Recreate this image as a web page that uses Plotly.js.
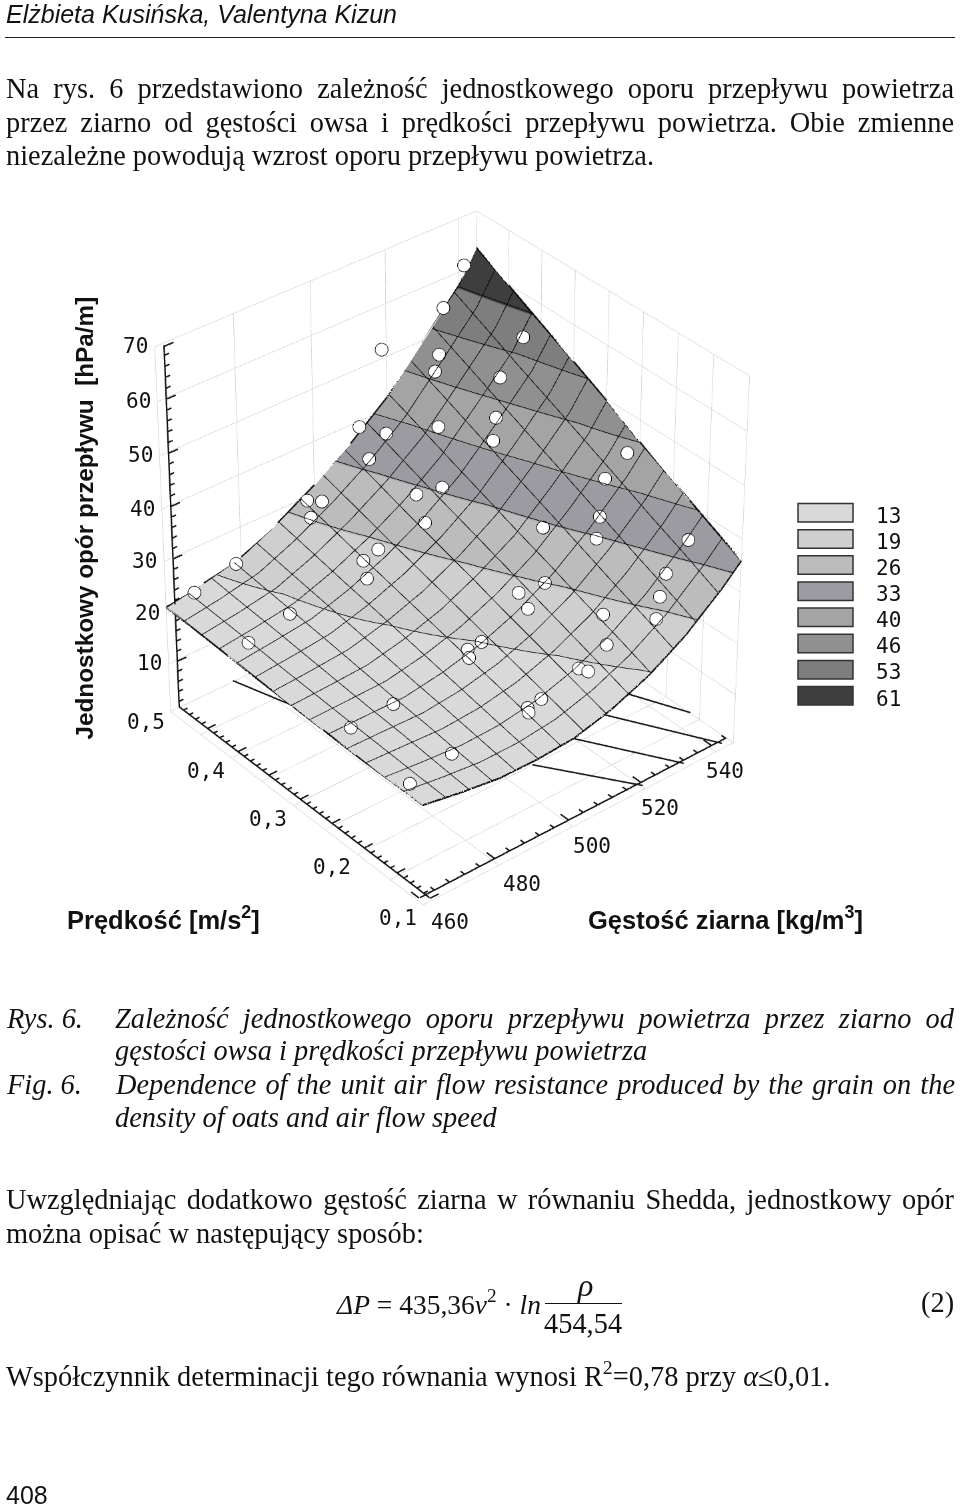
<!DOCTYPE html>
<html><head><meta charset="utf-8">
<script src="https://cdn.plot.ly/plotly-3.0.1.min.js"></script>
<style>html,body{margin:0;padding:0;background:#fff;overflow:hidden;width:960px;height:1504px}
#w{position:absolute;left:0;top:0;width:960px;height:1504px;overflow:hidden}
#g{position:absolute;left:0;width:960px}
</style></head><body><div id="w"><div id="g"></div></div>
<script>
const density=[460,470,480,490,500,510,520,530,540,545];
const speed=[0.1,0.15,0.2,0.25,0.3,0.35,0.4,0.45,0.5];
const resistance=[
[19.6,18.3,17.3,17.2,17.7,19.6,22.5,26.7,32.4,35.8],
[19.6,18.8,18.2,18.4,19.5,21.7,25.0,29.6,35.6,39.1],
[19.6,19.4,19.1,19.7,21.2,23.8,27.4,32.4,38.6,42.5],
[19.8,19.8,19.8,21.0,22.9,25.8,29.9,35.3,41.8,45.8],
[20.0,20.3,20.7,22.3,24.6,28.0,32.2,38.2,44.9,49.6],
[20.2,20.8,21.6,23.6,26.3,30.0,34.7,41.0,48.0,53.0],
[20.5,21.4,22.4,24.8,28.0,32.0,37.1,43.9,51.0,56.3],
[20.8,21.8,23.2,26.1,29.8,34.2,39.6,46.8,54.2,59.7],
[21.0,22.3,24.0,27.4,31.5,36.3,42.0,49.6,57.3,63.0]];
const obsDensity=[541.3,535.4,518.4,530.0,527.8,534.8,530.1,527.2,512.1,515.0,522.2,509.8,515.5,511.4,496.2,498.0,494.3,508.9,498.9,495.2,493.1,477.2,465.9,476.3,464.5,496.6,500.0,495.6,475.6,463.8,475.4,461.5,541.5,541.9,536.6,531.9,529.0,540.2,523.5,533.8,517.0,512.2,530.5,511.3,520.8,527.3,517.4,510.2,511.1,500.1,496.4,495.8];
const obsSpeed=[0.499,0.498,0.498,0.474,0.468,0.406,0.386,0.374,0.498,0.472,0.431,0.469,0.387,0.404,0.489,0.476,0.472,0.376,0.392,0.394,0.376,0.491,0.490,0.399,0.394,0.241,0.239,0.233,0.234,0.230,0.145,0.128,0.408,0.252,0.256,0.238,0.227,0.152,0.277,0.150,0.238,0.251,0.141,0.232,0.172,0.129,0.148,0.150,0.141,0.150,0.150,0.145];
const obsResistance=[61.0,54.8,52.0,49.4,47.3,48.9,44.3,41.8,39.2,39.1,41.4,36.1,35.5,34.1,30.8,31.1,29.5,31.8,28.6,27.5,26.3,24.6,22.9,23.2,22.1,23.2,23.7,22.7,20.8,20.9,19.6,20.6,54.3,44.7,41.2,37.0,34.7,37.1,34.4,33.0,29.3,27.9,30.5,26.8,27.7,28.4,25.2,23.0,22.9,20.7,20.3,20.1];
const floorLineDensity=[[476.6,481.5],[506.8,519.9],[519.4,531.6],[529.9,542.5],[538.8,544.7]];
const floorLineSpeed=[[0.499,0.418],[0.198,0.103],[0.205,0.104],[0.216,0.104],[0.227,0.162]];
const bandEdges=[22.9,28.6,34.4,40.1,45.8,51.6,57.3];
const legendLabels=['13','19','26','33','40','46','53','61'];
const bandColors=['#d9d9d9','#cfcfcf','#bcbcbc','#9b9ba1','#a4a4a4','#909090','#7e7e7e','#3e3e3e'];
const densityTicks=[461,480,500,520,540];
const densityLabels=['460','480','500','520','540'];
const speedTicks=[0.1,0.2,0.3,0.4];
const speedLabels=['0,1','0,2','0,3','0,4'];
const zTicks=[10,20,30,40,50,60,70];
const H=3740,OFF=1324.5,az=1.08;
document.getElementById('g').style.top=(-OFF)+'px';document.getElementById('g').style.height=H+'px';
const xp=x=>x/960, yp=y=>1-(y+OFF)/H;
const cmin=17,cmax=63;
let cs=[],prev=0;
bandEdges.concat([cmax]).forEach((e,i)=>{const f=(e-cmin)/(cmax-cmin);cs.push([prev,bandColors[i]]);cs.push([f,bandColors[i]]);prev=f;});
const xr=[460,545],yr=[0.1,0.5],zr=[0.5,70];
const eye={x:-5.788,y:-6.962,z:6.229},center={x:0.509,y:0.617,z:-0.54};
const nR=density.length,nS=speed.length;
let ox=[],oy=[],oz=[];
function add(i,j){ox.push(density[i]);oy.push(speed[j]);oz.push(resistance[j][i]+0.15)}
for(let i=0;i<nR;i++)add(i,0);for(let j=0;j<nS;j++)add(nR-1,j);for(let i=nR-1;i>=0;i--)add(i,nS-1);for(let j=nS-1;j>=0;j--)add(0,j);
let ax=[],ay=[],az3=[];
function seg(a,b){ax.push(a[0],b[0],null);ay.push(a[1],b[1],null);az3.push(a[2],b[2],null)}
const ar=462,av=0.108,fz=0.9,bv=0.498;
seg([ar,0.102,fz],[ar,bv,fz]);seg([460.5,av,fz],[544.5,av,fz]);seg([ar,bv,fz],[ar,bv,69.8]);
for(let k=0;k<=39;k++){const v=Math.round((0.1+k*0.01)*100)/100+0.001;const L=(k%5===0)?2.2:1.1;seg([ar,v,fz],[ar+L,v,fz])}
for(let r=460;r<=544;r+=4){const L=(r%20===0)?0.012:0.006;seg([r+0.3,av,fz],[r+0.3,av+L,fz])}
for(let z=2;z<=68;z+=2){const L=(z%10===0)?2.4:1.2;seg([ar,bv,z],[ar+L,bv,z])}
seg([ar,bv,69.6],[ar+2.4,bv,69.6]);
const traces=[{type:'surface',x:density,y:speed,z:resistance,colorscale:cs,cmin:cmin,cmax:cmax,showscale:false,
lighting:{ambient:1,diffuse:0,specular:0,roughness:1,fresnel:0},hoverinfo:'skip',
contours:{x:{show:true,start:460,end:545,size:85/14,color:'#000',width:3},y:{show:true,start:0.1,end:0.5,size:0.4/14,color:'#000',width:3},z:{show:true,start:bandEdges[0],end:bandEdges[6],size:5.733,color:'#000',width:3}}},
{type:'scatter3d',mode:'lines',x:ox,y:oy,z:oz,line:{color:'#111',width:3},hoverinfo:'skip'},
{type:'scatter3d',mode:'lines',x:ax,y:ay,z:az3,line:{color:'#111',width:3},hoverinfo:'skip',connectgaps:false},
{type:'scatter3d',mode:'markers',x:obsDensity,y:obsSpeed,z:obsResistance,marker:{size:7.5,color:'#fff',line:{color:'#000',width:1.5}},hoverinfo:'skip'}];
floorLineDensity.forEach((d,i)=>traces.push({type:'scatter3d',mode:'lines',x:d,y:floorLineSpeed[i],z:[fz,fz],line:{color:'#111',width:3},hoverinfo:'skip'}));
const grid={gridcolor:'#c8c8c8',gridwidth:1,showbackground:false,zeroline:false,showticklabels:false,ticks:'',showline:false,showspikes:false,title:{text:''}};
const mono={family:'"DejaVu Sans Mono"',size:21,color:'#111'};
const serif={family:'"Liberation Serif"',size:28.4,color:'#111'};
const sans={family:'"Liberation Sans"',size:25.5,color:'#111'};
const ctx=document.createElement('canvas').getContext('2d');
function note(x,y,text,font,extra){return Object.assign({xref:'paper',yref:'paper',x:xp(x-2),y:yp(y),text:text,font:font,showarrow:false,xanchor:'left',yanchor:'middle',align:'left'},extra||{})}
function just(x,y,text,right,font,it){ctx.font=(it?'italic ':'')+font.size+'px '+font.family;const w=ctx.measureText(text).width;const n=text.split(' ').length-1;const s=(right-x-w)/n;
let t='<span style="word-spacing:'+s.toFixed(2)+'px">'+text+'</span>';if(it)t='<i>'+t+'</i>';return note(x,y,t,font)}
const bodyJ=[[6,88,'Na rys. 6 przedstawiono zależność jednostkowego oporu przepływu powietrza'],[6,122,'przez ziarno od gęstości owsa i prędkości przepływu powietrza. Obie zmienne'],[6,1199,'Uwzględniając dodatkowo gęstość ziarna w równaniu Shedda, jednostkowy opór']];
const bodyP=[[6,155,'niezależne powodują wzrost oporu przepływu powietrza.'],[6,1233,'można opisać w następujący sposób:']];
const capJ=[[115,1018,'Zależność jednostkowego oporu przepływu powietrza przez ziarno od'],[115,1084,'Dependence of the unit air flow resistance produced by the grain on the']];
const capP=[[115,1050,'gęstości owsa i prędkości przepływu powietrza'],[115,1117,'density of oats and air flow speed'],[6,1018,'Rys. 6.'],[6,1084,'Fig. 6.']];
let ann=[];
ann.push(note(6,13,'<i>Elżbieta Kusińska, Valentyna Kizun</i>',{family:'"Liberation Sans"',size:25,color:'#111'}));
bodyJ.forEach(l=>ann.push(just(l[0],l[1],l[2],954,serif)));
bodyP.forEach(l=>ann.push(note(l[0],l[1],l[2],serif)));
capJ.forEach(l=>ann.push(just(l[0],l[1],l[2],954,serif,true)));
capP.forEach(l=>ann.push(note(l[0],l[1],'<i>'+l[2]+'</i>',serif)));
ann.push(note(6,1373,'Współczynnik determinacji tego równania wynosi R<sup>2</sup>=0,78 przy <i>α</i>≤0,01.',serif));
ann.push(note(6,1494,'408',{family:'"Liberation Sans"',size:25,color:'#111'}));
const frm={family:'"Liberation Serif"',size:27.5,color:'#111'};
ann.push(note(336,1302,'<i>ΔP</i> = 435,36<i>v</i><sup>2</sup> · <i>ln</i>',frm));
ann.push(note(585,1284,'<i>ρ</i>',{family:'"Liberation Serif"',size:32,color:'#111'},{x:xp(585),xanchor:'center'}));
ann.push(note(583,1323,'454,54',serif,{x:xp(583),xanchor:'center'}));
ann.push(note(954,1302,'(2)',serif,{x:xp(956),xanchor:'right'}));
ann.push(note(84,518,'<b>Jednostkowy opór przepływu  [hPa/m]</b>',{family:'"Liberation Sans"',size:24.3,color:'#111'},{x:xp(84),textangle:-90,xanchor:'center',yanchor:'middle'}));
ann.push(note(163,917,'<b>Prędkość [m/s<sup>2</sup>]</b>',sans,{x:xp(163),xanchor:'center'}));
ann.push(note(725,917,'<b>Gęstość ziarna [kg/m<sup>3</sup>]</b>',sans,{x:xp(725),xanchor:'center'}));
let shapes=[{type:'line',xref:'paper',yref:'paper',x0:xp(5),x1:xp(955),y0:yp(37),y1:yp(37),line:{color:'#222',width:1}},
{type:'line',xref:'paper',yref:'paper',x0:xp(545),x1:xp(622),y0:yp(1303),y1:yp(1303),line:{color:'#111',width:1}}];
legendLabels.forEach((t,i)=>{const y0=503+i*26.15;shapes.push({type:'rect',xref:'paper',yref:'paper',x0:xp(798),x1:xp(853),y0:yp(y0),y1:yp(y0+18.5),fillcolor:bandColors[i],line:{color:'#333',width:1.5}});
ann.push(note(888,y0+12,t,mono,{x:xp(888),xanchor:'center'}));});
function sa(x,y,z,t,dx,dy){return {x:x,y:y,z:z,text:t,showarrow:false,font:mono,xshift:dx,yshift:dy,xanchor:'center',yanchor:'middle'}}
let sann=[];
const rhoShift=[28,28,24,20,15];
densityTicks.forEach((r,i)=>sann.push(sa(r,0.108,0.9,densityLabels[i],rhoShift[i],-25)));
speedTicks.forEach((v,i)=>sann.push(sa(462,v,0.9,speedLabels[i],-33,-19)));
zTicks.forEach(z=>sann.push(sa(462,0.498,z,String(z),-28,-2)));
sann.push(sa(462,0.498,0.9,'0,5',-33,-15));
const layout={width:960,height:H,margin:{l:0,r:0,t:0,b:0},showlegend:false,paper_bgcolor:'#fff',annotations:ann,shapes:shapes,
scene:{domain:{x:[0,899/960],y:[0,1]},aspectmode:'manual',aspectratio:{x:1,y:1,z:az},annotations:sann,
camera:{eye:eye,center:center,up:{x:0,y:0,z:1},projection:{type:'perspective'}},
xaxis:Object.assign({},grid,{range:xr,tickmode:'array',tickvals:[460,480,500,520,540,545]}),
yaxis:Object.assign({},grid,{range:yr,tickmode:'array',tickvals:speed}),
zaxis:Object.assign({},grid,{range:zr,tickmode:'array',tickvals:[0.5,10,20,30,40,50,60,70]})}};
Plotly.newPlot('g',traces,layout,{displayModeBar:false,plotGlPixelRatio:1.5});
</script></body></html>
